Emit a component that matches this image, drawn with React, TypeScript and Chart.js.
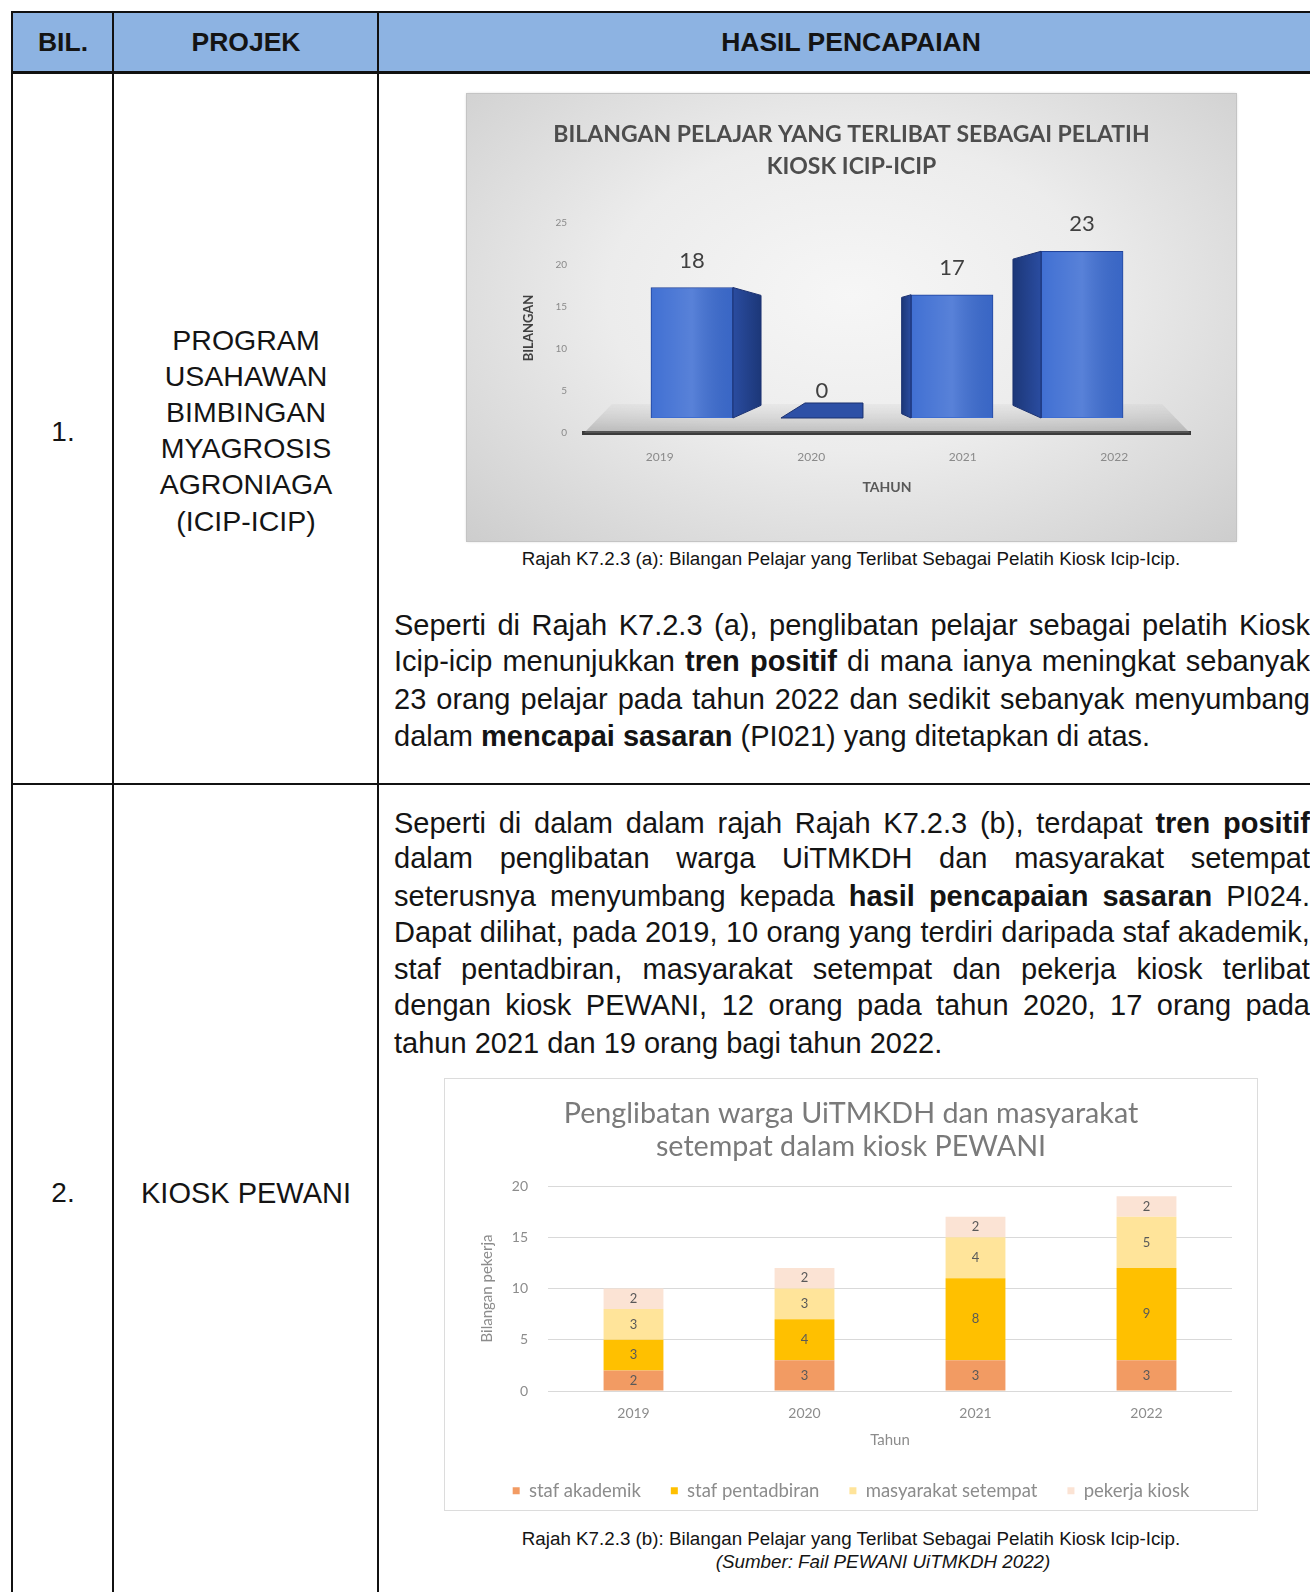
import React, { useEffect, useRef } from "react";
import { Chart, registerables } from "chart.js";

Chart.register(...registerables);

// ---------------- DATA ----------------
const YEARS = ["2019", "2020", "2021", "2022"];

// Rajah K7.2.3 (a)
const PELATIH_KIOSK = [18, 0, 17, 23];
const Y1_MAX = 25;
const Y1_STEP = 5;
const CHART1_TITLE = ["BILANGAN PELAJAR YANG TERLIBAT SEBAGAI PELATIH", "KIOSK ICIP-ICIP"];

// Rajah K7.2.3 (b)
const SERIES_NAMES = ["staf akademik", "staf pentadbiran", "masyarakat setempat", "pekerja kiosk"];
const STAF_AKADEMIK = [2, 3, 3, 3];
const STAF_PENTADBIRAN = [3, 4, 8, 9];
const MASYARAKAT_SETEMPAT = [3, 3, 4, 5];
const PEKERJA_KIOSK = [2, 2, 2, 2];
const SERIES_COLORS = ["#F29B63", "#FFC000", "#FFE49A", "#FBE3D4"];
const Y2_MAX = 20;
const Y2_STEP = 5;
const CHART2_TITLE = ["Penglibatan warga UiTMKDH dan masyarakat", "setempat dalam kiosk PEWANI"];

const CHART_FONT = "Lato, 'Open Sans', sans-serif";
const BODY_FONT = "'Liberation Sans', Arial, Helvetica, sans-serif";

// ---------------- PLUGINS ----------------
const bars3d: any = {
  id: "bars3d",
  beforeDatasetsDraw(chart: any) {
    const { ctx, chartArea } = chart;
    const base = chart.scales.yb.getPixelForValue(0);
    ctx.save();
    const g = ctx.createLinearGradient(0, base - 14, 0, chartArea.bottom);
    g.addColorStop(0, "rgba(170,170,170,0.10)");
    g.addColorStop(1, "rgba(120,120,120,0.40)");
    ctx.fillStyle = g;
    ctx.beginPath();
    ctx.moveTo(chartArea.left + 28, base - 14);
    ctx.lineTo(chartArea.right - 28, base - 14);
    ctx.lineTo(chartArea.right, chartArea.bottom);
    ctx.lineTo(chartArea.left, chartArea.bottom);
    ctx.closePath();
    ctx.fill();
    ctx.restore();
  },
  afterDatasetsDraw(chart: any) {
    const { ctx, chartArea } = chart;
    const meta = chart.getDatasetMeta(0);
    const cx = (chartArea.left + chartArea.right) / 2;
    const ds = chart.data.datasets[0];
    meta.data.forEach((el: any, i: number) => {
      const { x, y, base, width } = el.getProps(["x", "y", "base", "width"], true);
      const left = x - width / 2;
      const right = x + width / 2;
      const h = base - y;
      ctx.save();
      if (h < 1) {
        ctx.fillStyle = "#2D50A6";
        ctx.strokeStyle = "#1B3170";
        ctx.beginPath();
        ctx.moveTo(left, base);
        ctx.lineTo(right, base);
        ctx.lineTo(right, base - 15);
        ctx.lineTo(left + 24, base - 15);
        ctx.closePath();
        ctx.fill();
        ctx.stroke();
      } else {
        const dx = -(x - cx) * 0.144;
        const edge = dx > 0 ? right : left;
        const dTop = Math.abs(dx) * 0.28;
        const dBot = Math.abs(dx) * 0.45;
        const sg = ctx.createLinearGradient(edge, 0, edge + dx, 0);
        sg.addColorStop(0, "#2A4CA0");
        sg.addColorStop(1, "#1C3778");
        ctx.fillStyle = sg;
        ctx.strokeStyle = "#1B3170";
        ctx.lineWidth = 1;
        ctx.beginPath();
        ctx.moveTo(edge, y);
        ctx.lineTo(edge + dx, y + dTop);
        ctx.lineTo(edge + dx, base - dBot);
        ctx.lineTo(edge, base);
        ctx.closePath();
        ctx.fill();
        ctx.stroke();
        const hg = ctx.createLinearGradient(left, 0, right, 0);
        hg.addColorStop(0, "rgba(255,255,255,0.02)");
        hg.addColorStop(0.5, "rgba(255,255,255,0.14)");
        hg.addColorStop(1, "rgba(0,0,0,0.06)");
        ctx.fillStyle = hg;
        ctx.fillRect(left + 1, y + 1, width - 2, h - 2);
      }
      const v = ds.data[i].y;
      ctx.fillStyle = "#404040";
      ctx.font = `22px ${CHART_FONT}`;
      ctx.textAlign = "center";
      ctx.textBaseline = "middle";
      ctx.fillText(String(v), x, y - 27);
      ctx.restore();
    });
  },
};

const segLabels: any = {
  id: "segLabels",
  afterDatasetsDraw(chart: any) {
    const { ctx } = chart;
    ctx.save();
    ctx.font = `13px ${CHART_FONT}`;
    ctx.fillStyle = "#595959";
    ctx.textAlign = "center";
    ctx.textBaseline = "middle";
    chart.data.datasets.forEach((ds: any, di: number) => {
      const meta = chart.getDatasetMeta(di);
      meta.data.forEach((el: any, i: number) => {
        const { x, y, base } = el.getProps(["x", "y", "base"], true);
        ctx.fillText(String(ds.data[i]), x, (y + base) / 2);
      });
    });
    ctx.restore();
  },
};

// ---------------- CHARTS ----------------
function ChartPelatih() {
  const ref = useRef<HTMLCanvasElement>(null);
  useEffect(() => {
    const chart = new Chart(ref.current as HTMLCanvasElement, {
      type: "bar",
      data: {
        labels: YEARS,
        datasets: [
          {
            label: "Bilangan",
            data: PELATIH_KIOSK.map((v, i) => ({ x: i, y: v })),
            xAxisID: "xb",
            yAxisID: "yb",
            backgroundColor: "#3D6DD2",
            borderColor: "#22449A",
            borderWidth: 1,
            barThickness: 82,
          } as any,
        ],
      },
      options: {
        responsive: false,
        animation: false,
        devicePixelRatio: 1,
        layout: { padding: 0 },
        plugins: {
          legend: { display: false },
          tooltip: { enabled: false },
          title: {
            display: true,
            text: CHART1_TITLE,
            color: "#4d4d4d",
            font: { family: CHART_FONT, size: 23, weight: "bold", lineHeight: 32 / 23 },
            padding: { top: 25, bottom: 40 },
          },
        },
        scales: {
          x: {
            type: "category",
            position: "bottom",
            grid: { display: false, drawTicks: false },
            border: { display: true, color: "#3b3b3b", width: 4 },
            ticks: { color: "#8a8a8a", font: { family: CHART_FONT, size: 12 }, padding: 17 },
            title: {
              display: true,
              text: "TAHUN",
              color: "#595959",
              font: { family: CHART_FONT, size: 14, weight: "bold" },
              padding: { top: 0, bottom: 45 },
            },
            afterFit: (s: any) => {
              s.height = 108;
            },
          },
          y: {
            type: "linear",
            position: "left",
            min: 0,
            max: Y1_MAX,
            ticks: { stepSize: Y1_STEP, color: "#8a8a8a", font: { family: CHART_FONT, size: 10 }, padding: 17 },
            grid: { display: false, drawTicks: false },
            border: { display: false },
            title: {
              display: true,
              text: "BILANGAN",
              color: "#404040",
              font: { family: CHART_FONT, size: 13, weight: "bold" },
              padding: { top: 54, bottom: 0 },
            },
            afterFit: (s: any) => {
              s.width = 117;
            },
          },
          xb: { type: "linear", display: false, offset: false, min: -0.83, max: 3.83, grid: { offset: false } },
          yb: {
            type: "linear",
            position: "right",
            display: true,
            min: -2.07,
            max: 26.9,
            ticks: { display: false },
            grid: { display: false, drawTicks: false },
            border: { display: false },
            afterFit: (s: any) => {
              s.width = 46;
            },
          },
        } as any,
      },
      plugins: [bars3d],
    });
    return () => chart.destroy();
  }, []);
  return <canvas ref={ref} width={769} height={447} style={{ display: "block", width: 769, height: 447 }} />;
}

function ChartPewani() {
  const ref = useRef<HTMLCanvasElement>(null);
  useEffect(() => {
    const series = [STAF_AKADEMIK, STAF_PENTADBIRAN, MASYARAKAT_SETEMPAT, PEKERJA_KIOSK];
    const chart = new Chart(ref.current as HTMLCanvasElement, {
      type: "bar",
      data: {
        labels: YEARS,
        datasets: series.map((d, i) => ({
          label: SERIES_NAMES[i],
          data: d,
          backgroundColor: SERIES_COLORS[i],
          borderWidth: 0,
          barPercentage: 0.35,
          categoryPercentage: 1,
        })),
      },
      options: {
        responsive: false,
        animation: false,
        devicePixelRatio: 1,
        layout: { padding: 0 },
        plugins: {
          tooltip: { enabled: false },
          title: {
            display: true,
            text: CHART2_TITLE,
            color: "#7a7a7a",
            font: { family: CHART_FONT, size: 28.7, weight: "normal", lineHeight: 33 / 28.7 },
            padding: { top: 18.5, bottom: 22.5 },
          },
          legend: {
            position: "bottom",
            labels: {
              boxWidth: 7,
              boxHeight: 7,
              padding: 30,
              color: "#8c8c8c",
              font: { family: CHART_FONT, size: 18.5 },
            },
          },
        },
        scales: {
          x: {
            stacked: true,
            grid: { display: false, drawTicks: false },
            border: { display: false },
            ticks: { color: "#8c8c8c", font: { family: CHART_FONT, size: 14 }, padding: 13.6 },
            title: {
              display: true,
              text: "Tahun",
              color: "#8c8c8c",
              font: { family: CHART_FONT, size: 15 },
              padding: { top: 0, bottom: 2.5 },
            },
            afterFit: (s: any) => {
              s.height = 60.5;
            },
          },
          y: {
            stacked: true,
            min: 0,
            max: Y2_MAX,
            ticks: { stepSize: Y2_STEP, color: "#8c8c8c", font: { family: CHART_FONT, size: 14 }, padding: 20 },
            grid: { color: "#d9d9d9", lineWidth: 1, drawTicks: false },
            border: { display: false },
            title: {
              display: true,
              text: "Bilangan pekerja",
              color: "#8c8c8c",
              font: { family: CHART_FONT, size: 15 },
              padding: { top: 33, bottom: 0 },
            },
            afterFit: (s: any) => {
              s.width = 103;
            },
          },
          yr: {
            type: "linear",
            position: "right",
            display: true,
            min: 0,
            max: 1,
            ticks: { display: false },
            grid: { display: false, drawTicks: false },
            border: { display: false },
            afterFit: (s: any) => {
              s.width = 25;
            },
          },
        } as any,
      },
      plugins: [segLabels],
    });
    return () => chart.destroy();
  }, []);
  return <canvas ref={ref} width={812} height={431} style={{ display: "block", width: 812, height: 431 }} />;
}

// ---------------- TEXT HELPERS ----------------
type Seg = { t: string; b?: boolean };

function TextLine(props: { x: number; cy: number; w: number; segs: Seg[]; justify?: boolean; size: number; lh: number }) {
  const { x, cy, w, segs, justify, size, lh } = props;
  const base: any = {
    position: "absolute",
    left: x,
    top: cy - lh / 2,
    width: w,
    height: lh,
    lineHeight: lh + "px",
    fontSize: size,
    whiteSpace: "nowrap",
  };
  if (justify) {
    const words = segs.flatMap((s) => s.t.split(" ").filter(Boolean).map((t) => ({ t, b: s.b })));
    return (
      <div style={{ ...base, display: "flex", justifyContent: "space-between" }}>
        {words.map((wd, i) => (
          <span key={i} style={{ fontWeight: wd.b ? 700 : 400 }}>
            {wd.t}
          </span>
        ))}
      </div>
    );
  }
  return (
    <div style={base}>
      {segs.map((s, i) => (
        <span key={i} style={{ fontWeight: s.b ? 700 : 400 }}>
          {s.t}
        </span>
      ))}
    </div>
  );
}

function CText(props: { cx: number; cy: number; text: string; size: number; bold?: boolean; italic?: boolean; lh?: number }) {
  const lh = props.lh || Math.round(props.size * 1.3);
  return (
    <div
      style={{
        position: "absolute",
        left: props.cx - 500,
        width: 1000,
        top: props.cy - lh / 2,
        height: lh,
        lineHeight: lh + "px",
        textAlign: "center",
        fontSize: props.size,
        fontWeight: props.bold ? 700 : 400,
        fontStyle: props.italic ? "italic" : "normal",
        whiteSpace: "nowrap",
      }}
    >
      {props.text}
    </div>
  );
}

function Rule(props: { x: number; y: number; w: number; h: number }) {
  return <div style={{ position: "absolute", left: props.x, top: props.y, width: props.w, height: props.h, background: "#111" }} />;
}

const PARA1: { segs: Seg[]; j: boolean }[] = [
  { segs: [{ t: "Seperti di Rajah K7.2.3 (a), penglibatan pelajar sebagai pelatih Kiosk" }], j: true },
  { segs: [{ t: "Icip-icip menunjukkan " }, { t: "tren positif", b: true }, { t: " di mana ianya meningkat sebanyak" }], j: true },
  { segs: [{ t: "23 orang pelajar pada tahun 2022 dan sedikit sebanyak menyumbang" }], j: true },
  { segs: [{ t: "dalam " }, { t: "mencapai sasaran", b: true }, { t: " (PI021) yang ditetapkan di atas." }], j: false },
];
const PARA1_Y = [625, 661, 699, 736];

const PARA2: { segs: Seg[]; j: boolean }[] = [
  { segs: [{ t: "Seperti di dalam dalam rajah Rajah K7.2.3 (b), terdapat " }, { t: "tren positif", b: true }], j: true },
  { segs: [{ t: "dalam penglibatan warga UiTMKDH dan masyarakat setempat" }], j: true },
  { segs: [{ t: "seterusnya menyumbang kepada " }, { t: "hasil pencapaian sasaran", b: true }, { t: " PI024." }], j: true },
  { segs: [{ t: "Dapat dilihat, pada 2019, 10 orang yang terdiri daripada staf akademik," }], j: true },
  { segs: [{ t: "staf pentadbiran, masyarakat setempat dan pekerja kiosk terlibat" }], j: true },
  { segs: [{ t: "dengan kiosk PEWANI, 12 orang pada tahun 2020, 17 orang pada" }], j: true },
  { segs: [{ t: "tahun 2021 dan 19 orang bagi tahun 2022." }], j: false },
];
const PARA2_Y = [823, 858, 896, 932, 969, 1005, 1043];

const PROJEK1 = ["PROGRAM", "USAHAWAN", "BIMBINGAN", "MYAGROSIS", "AGRONIAGA", "(ICIP-ICIP)"];

export default function App() {
  return (
    <div
      style={{
        position: "absolute",
        left: 0,
        top: 0,
        width: 1310,
        height: 1592,
        overflow: "hidden",
        background: "#ffffff",
        fontFamily: BODY_FONT,
        color: "#141414",
      }}
    >
      {/* header fill */}
      <div style={{ position: "absolute", left: 12, top: 12, width: 1300, height: 60, background: "#8DB3E2" }} />
      {/* table rules */}
      <Rule x={12} y={11} w={1300} h={2} />
      <Rule x={12} y={71} w={1300} h={3} />
      <Rule x={12} y={783} w={1300} h={2} />
      <Rule x={11} y={11} w={2} h={1590} />
      <Rule x={112} y={11} w={2} h={1590} />
      <Rule x={377} y={11} w={2} h={1590} />

      {/* header texts */}
      <CText cx={63} cy={42} text="BIL." size={26.5} bold />
      <CText cx={246} cy={42} text="PROJEK" size={26.5} bold />
      <CText cx={851} cy={42} text="HASIL PENCAPAIAN" size={26.5} bold />

      {/* row 1 */}
      <CText cx={63} cy={432} text="1." size={28} />
      {PROJEK1.map((t, i) => (
        <CText key={t} cx={246} cy={340 + i * 36.2} text={t} size={28.5} />
      ))}

      {/* chart 1 */}
      <div
        style={{
          position: "absolute",
          left: 467,
          top: 94,
          width: 769,
          height: 447,
          background: "radial-gradient(ellipse at 50% 45%, #f6f6f6 0%, #ececec 45%, #d6d6d6 85%, #cdcdcd 100%)",
          outline: "1px solid #c4c4c4",
          boxShadow: "0 0 3px rgba(0,0,0,0.25)",
        }}
      >
        <ChartPelatih />
      </div>
      <CText cx={851} cy={559} text="Rajah K7.2.3 (a): Bilangan Pelajar yang Terlibat Sebagai Pelatih Kiosk Icip-Icip." size={18.8} />

      {PARA1.map((l, i) => (
        <TextLine key={i} x={394} cy={PARA1_Y[i]} w={916} segs={l.segs} justify={l.j} size={29} lh={36} />
      ))}

      {/* row 2 */}
      <CText cx={63} cy={1193} text="2." size={28} />
      <CText cx={246} cy={1193} text="KIOSK PEWANI" size={29} />

      {PARA2.map((l, i) => (
        <TextLine key={i} x={394} cy={PARA2_Y[i]} w={916} segs={l.segs} justify={l.j} size={29} lh={36} />
      ))}

      {/* chart 2 */}
      <div style={{ position: "absolute", left: 445, top: 1079, width: 812, height: 431, background: "#fff", outline: "1px solid #dcdcdc" }}>
        <ChartPewani />
      </div>
      <CText cx={851} cy={1539} text="Rajah K7.2.3 (b): Bilangan Pelajar yang Terlibat Sebagai Pelatih Kiosk Icip-Icip." size={18.8} />
      <CText cx={883} cy={1562} text="(Sumber: Fail PEWANI UiTMKDH 2022)" size={18.8} italic />
    </div>
  );
}
